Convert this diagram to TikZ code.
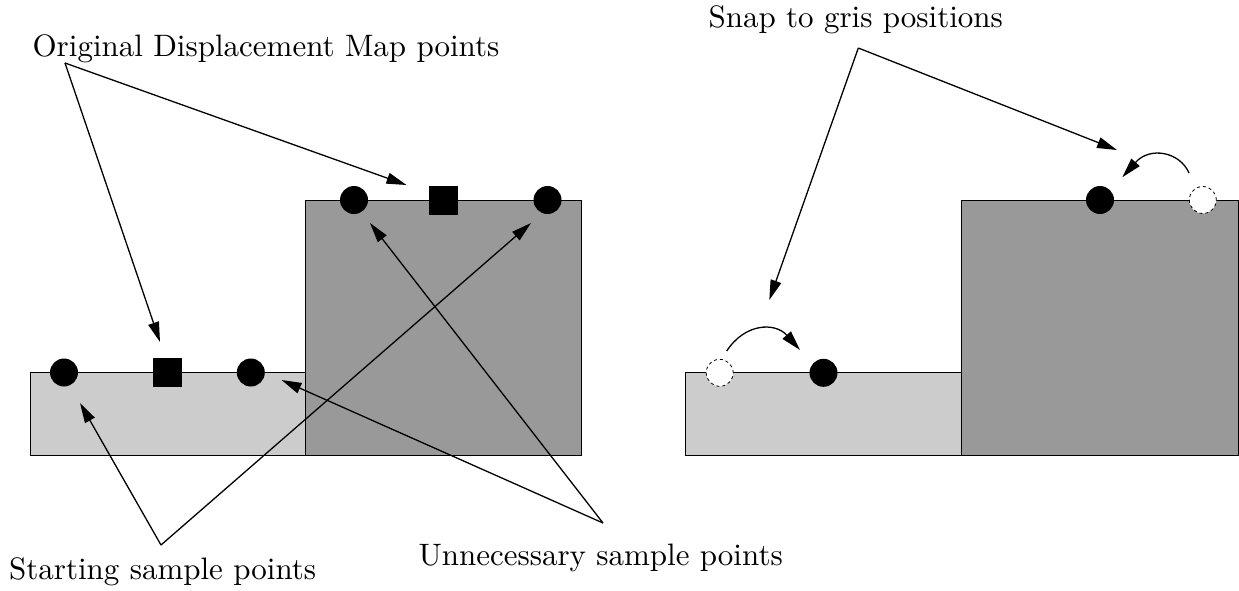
\documentclass[tikz,border=0pt]{standalone}
\usetikzlibrary{arrows.meta}
\definecolor{lightfill}{HTML}{CCCCCC}
\definecolor{darkfill}{HTML}{999999}
\begin{document}
\begin{tikzpicture}[x=1pt,y=-1pt,
  lbl/.style={inner sep=0pt, anchor=base west, scale=3.1, font=\fontsize{10}{12}\selectfont},
  ground/.style={draw=black, line width=1pt},
  dot/.style={circle, fill=black, draw=none, minimum size=28pt, inner sep=0pt},
  ghost/.style={circle, fill=white, draw=black, dashed, dash pattern=on 3pt off 3pt, line width=0.8pt, minimum size=27pt, inner sep=0pt},
  sq/.style={rectangle, fill=black, draw=none, minimum size=29pt, inner sep=0pt},
  arr/.style={line width=1.3pt, -{Triangle[length=20pt,width=11pt]}}]
\useasboundingbox (0,0) rectangle (1239,590);

% left panel blocks
\filldraw[ground, fill=lightfill] (30,372.5) rectangle (305.5,455);
\filldraw[ground, fill=darkfill] (305.5,200) rectangle (581.5,455);
% right panel blocks
\filldraw[ground, fill=lightfill] (685,372.5) rectangle (961.5,455);
\filldraw[ground, fill=darkfill] (961.5,200) rectangle (1238,455);

% left panel points
\node[dot] (l1) at (64,372.5) {};
\node[sq]  (ls) at (167.8,372.5) {};
\node[dot] (l2) at (250.8,372.5) {};
\node[dot] (u1) at (354,200) {};
\node[sq]  (us) at (443.8,200) {};
\node[dot] (u2) at (547.5,200) {};

% right panel points
\node[ghost] (g1) at (719.7,372.8) {};
\node[dot]   (r1) at (823.5,372.8) {};
\node[dot]   (r2) at (1100,200) {};
\node[ghost] (g2) at (1202.8,200) {};

% labels
\node[lbl] (orig) at (32,56) {Original Displacement Map points};
\node[lbl] (start) at (8.5,579) {Starting sample points};
\node[lbl] (unnec) at (418,565) {Unnecessary sample points};
\node[lbl] (snap) at (708,27) {Snap to gris positions};

% connector coordinates
\coordinate (apexO) at (65,63);
\coordinate (tO1) at (160,342);
\coordinate (tO2) at (406.5,185);
\coordinate (apexS) at (161,545);
\coordinate (tS1) at (80,403);
\coordinate (tS2) at (531,223);
\coordinate (apexU) at (603,523);
\coordinate (tU1) at (370,223);
\coordinate (tU2) at (281.5,380);
\coordinate (apexN) at (858.3,48);
\coordinate (tN1) at (769.3,300);
\coordinate (tN2) at (1117,150);
\coordinate (c1s) at (726.7,351);
\coordinate (c1e) at (800,350);
\coordinate (c2s) at (1189,173);
\coordinate (c2e) at (1122.3,177.3);

% arrows
\draw[arr] (apexO) -- (tO1);
\draw[arr] (apexO) -- (tO2);
\draw[arr] (apexS) -- (tS1);
\draw[arr] (apexS) -- (tS2);
\draw[arr] (apexU) -- (tU1);
\draw[arr] (apexU) -- (tU2);
\draw[arr] (apexN) -- (tN1);
\draw[arr] (apexN) -- (tN2);
\draw[arr] (c1s) .. controls (745,323) and (775,322) .. (c1e);
\draw[arr] (c2s) .. controls (1180,152) and (1150,146) .. (c2e);
\end{tikzpicture}
\end{document}
